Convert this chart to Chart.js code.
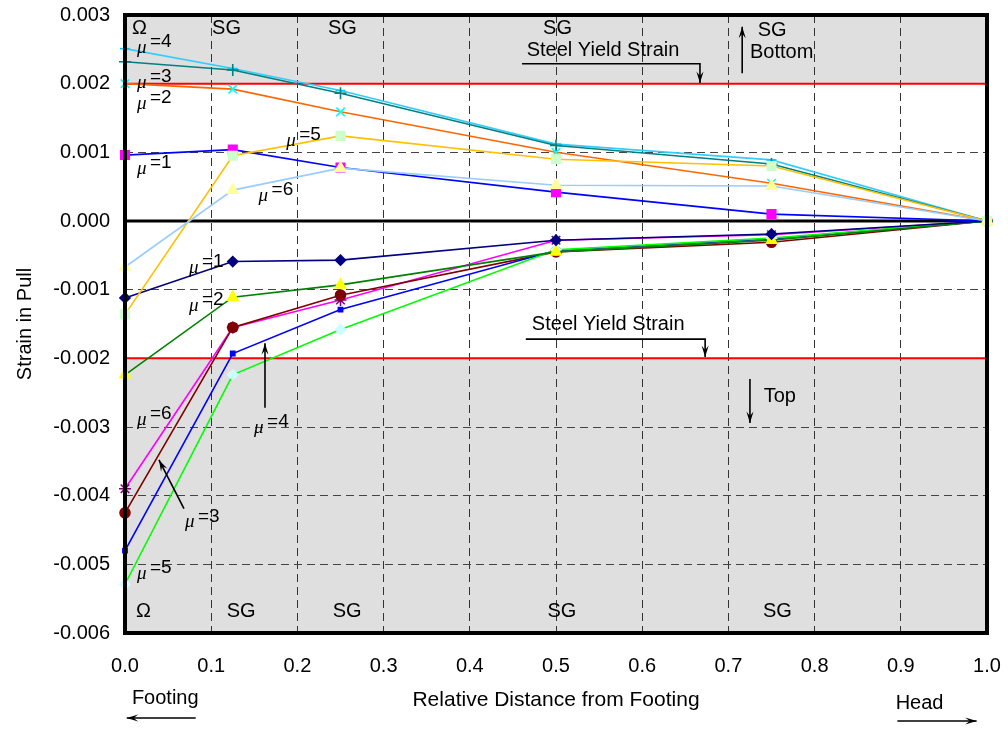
<!DOCTYPE html>
<html>
<head>
<meta charset="utf-8">
<script src="https://cdn.jsdelivr.net/npm/chart.js@4.4.1/dist/chart.umd.min.js"></script>
<style>
html, body { margin: 0; padding: 0; background: #fff; }
</style>
</head>
<body>
<canvas id="graph" width="1008" height="729"></canvas>
<script>
// relative distance of the strain gauges
const positions = [0, 0.125, 0.25, 0.5, 0.75, 1.0];

// bottom gauges (upper group)
const botMu1 = [0.00096, 0.00104, 0.00078, 0.00042, 0.00010, 0];
const botMu2 = [0.00200, 0.00192, 0.00159, 0.00100, 0.00055, 0];
const botMu3 = [0.00232, 0.00220, 0.00186, 0.00110, 0.00083, 0];
const botMu4 = [0.00251, 0.00222, 0.00190, 0.00112, 0.00089, 0];
const botMu5 = [-0.00136, 0.00095, 0.00124, 0.00090, 0.00080, 0];
const botMu6 = [-0.00067, 0.00045, 0.00077, 0.00052, 0.00051, 0];

// top gauges (lower group)
const topMu1 = [-0.00112, -0.00059, -0.00057, -0.00028, -0.00019, 0];
const topMu2 = [-0.00224, -0.00111, -0.00093, -0.00045, -0.00028, 0];
const topMu3 = [-0.00425, -0.00155, -0.00108, -0.00045, -0.00031, 0];
const topMu4 = [-0.00480, -0.00193, -0.00129, -0.00043, -0.00026, 0];
const topMu5 = [-0.00529, -0.00224, -0.00158, -0.00042, -0.00025, 0];
const topMu6 = [-0.00390, -0.00155, -0.00115, -0.00028, -0.00020, 0];

const yieldStrain = 0.002;
const xTicks = ['0.0', '0.1', '0.2', '0.3', '0.4', '0.5', '0.6', '0.7', '0.8', '0.9', '1.0'];

const FONT = '"Liberation Sans", Arial, sans-serif';

function pts(arr) {
    return arr.map((v, i) => ({ x: positions[i], y: v }));
}

function series(label, data, line, style, fill, r) {
    return {
        label: label,
        data: pts(data),
        borderColor: line,
        borderWidth: 1.6,
        pointStyle: style,
        pointBackgroundColor: fill,
        pointBorderColor: fill,
        pointBorderWidth: 1.6,
        pointRadius: r || 5,
        clip: false,
        tension: 0
    };
}

const datasets = [
    series('bottom mu=6', botMu6, '#99ccff', 'triangle', '#ffff99', 6),
    series('bottom mu=5', botMu5, '#ffc000', 'rect', '#ccffcc', 6),
    series('bottom mu=1', botMu1, '#0000ff', 'rect', '#ff00ff', 6),
    series('bottom mu=2', botMu2, '#ff6600', 'crossRot', '#00ffff', 6),
    series('bottom mu=3', botMu3, '#008080', 'cross', '#008080', 6),
    series('bottom mu=4', botMu4, '#33ccff', 'line', '#00ccff', 5),
    series('top mu=1', topMu1, '#000080', 'rectRot', '#000080', 5),
    series('top mu=2', topMu2, '#008000', 'triangle', '#ffff00', 6),
    series('top mu=5', topMu5, '#00ff00', 'rectRot', '#ccffff', 5),
    series('top mu=4', topMu4, '#0000ff', 'rect', '#0000ff', 3),
    series('top mu=3', topMu3, '#800000', 'circle', '#800000', 5),
    series('top mu=6', topMu6, '#ff00ff', 'star', '#800080', 6)
];

// text annotations, left edge / vertical centre in data units
const notes = [
    { t: 'Ω', x: 0.008, y: 0.00281 },
    { t: 'SG', x: 0.101, y: 0.00281 },
    { t: 'SG', x: 0.2355, y: 0.00281 },
    { t: 'SG', x: 0.485, y: 0.00281 },
    { t: 'SG', x: 0.734, y: 0.00278 },
    { t: 'Bottom', x: 0.725, y: 0.00245 },
    { t: 'Steel Yield Strain', x: 0.466, y: 0.00249 },
    { t: 'Steel Yield Strain', x: 0.472, y: -0.00151 },
    { t: 'Top', x: 0.741, y: -0.00255 },
    { t: 'Ω', x: 0.0128, y: -0.00569 },
    { t: 'SG', x: 0.118, y: -0.00569 },
    { t: 'SG', x: 0.241, y: -0.00569 },
    { t: 'SG', x: 0.490, y: -0.00569 },
    { t: 'SG', x: 0.740, y: -0.00569 }
];

const muLabels = [
    { n: 4, x: 0.0139, y: 0.00261 },
    { n: 3, x: 0.0139, y: 0.00210 },
    { n: 2, x: 0.0139, y: 0.00179 },
    { n: 5, x: 0.187, y: 0.00125 },
    { n: 1, x: 0.0139, y: 0.000845 },
    { n: 6, x: 0.155, y: 0.00045 },
    { n: 1, x: 0.0742, y: -0.00060 },
    { n: 2, x: 0.0742, y: -0.00115 },
    { n: 4, x: 0.1497, y: -0.00293 },
    { n: 6, x: 0.0139, y: -0.00281 },
    { n: 3, x: 0.0696, y: -0.00430 },
    { n: 5, x: 0.0139, y: -0.00505 }
];

// arrows: list of points, arrowhead at the last one
const arrows = [
    [[0.4606, 0.00229], [0.667, 0.00229], [0.667, 0.00201]],
    [[0.465, -0.00172], [0.673, -0.00172], [0.673, -0.00198]],
    [[0.716, 0.00215], [0.716, 0.00283]],
    [[0.725, -0.00230], [0.725, -0.00294]],
    [[0.1624, -0.00272], [0.1624, -0.00178]],
    [[0.0684, -0.00419], [0.0394, -0.00348]]
];

function drawArrow(ctx, p) {
    ctx.beginPath();
    ctx.moveTo(p[0][0], p[0][1]);
    for (let i = 1; i < p.length; i++) ctx.lineTo(p[i][0], p[i][1]);
    ctx.stroke();
    const a = p[p.length - 1], b = p[p.length - 2];
    const ang = Math.atan2(a[1] - b[1], a[0] - b[0]);
    ctx.beginPath();
    ctx.moveTo(a[0], a[1]);
    ctx.lineTo(a[0] - 12 * Math.cos(ang - 0.3), a[1] - 12 * Math.sin(ang - 0.3));
    ctx.lineTo(a[0] - 7 * Math.cos(ang), a[1] - 7 * Math.sin(ang));
    ctx.lineTo(a[0] - 12 * Math.cos(ang + 0.3), a[1] - 12 * Math.sin(ang + 0.3));
    ctx.closePath();
    ctx.fill();
}

function noPad(s) {
    s.paddingTop = 0;
    s.paddingBottom = 0;
    s.paddingLeft = 0;
    s.paddingRight = 0;
}

const decor = {
    id: 'decor',
    beforeDraw(chart) {
        const { ctx, chartArea: a, scales: { y } } = chart;
        ctx.save();
        ctx.fillStyle = '#dfdfdf';
        const yt = y.getPixelForValue(yieldStrain), yb = y.getPixelForValue(-yieldStrain);
        ctx.fillRect(a.left, a.top, a.right - a.left, yt - a.top);
        ctx.fillRect(a.left, yb, a.right - a.left, a.bottom - yb);
        ctx.restore();
    },
    beforeDatasetsDraw(chart) {
        const { ctx, chartArea: a, scales: { y } } = chart;
        ctx.save();
        ctx.strokeStyle = '#ff0000';
        ctx.lineWidth = 2;
        [yieldStrain, -yieldStrain].forEach(v => {
            const py = y.getPixelForValue(v);
            ctx.beginPath(); ctx.moveTo(a.left, py); ctx.lineTo(a.right, py); ctx.stroke();
        });
        ctx.strokeStyle = '#000';
        ctx.lineWidth = 3;
        const z = y.getPixelForValue(0);
        ctx.beginPath(); ctx.moveTo(a.left, z); ctx.lineTo(a.right, z); ctx.stroke();
        ctx.restore();
    },
    afterDatasetsDraw(chart) {
        const { ctx, chartArea: a, scales: { x, y } } = chart;
        ctx.save();
        ctx.strokeStyle = '#000';
        ctx.lineWidth = 4;
        ctx.strokeRect(a.left, a.top, a.right - a.left, a.bottom - a.top);

        ctx.fillStyle = '#000';
        ctx.textBaseline = 'middle';
        ctx.textAlign = 'left';
        ctx.font = '20px ' + FONT;
        notes.forEach(n => {
            ctx.fillText(n.t, x.getPixelForValue(n.x), y.getPixelForValue(n.y));
        });
        muLabels.forEach(m => {
            const px = x.getPixelForValue(m.x), py = y.getPixelForValue(m.y);
            ctx.font = 'italic 19px "Liberation Serif", serif';
            ctx.fillText('μ', px, py + 6);
            ctx.font = '19px ' + FONT;
            ctx.fillText('=' + m.n, px + 13, py);
        });

        ctx.lineWidth = 1.6;
        arrows.forEach(ar => {
            drawArrow(ctx, ar.map(p => [x.getPixelForValue(p[0]), y.getPixelForValue(p[1])]));
        });

        // footing / head captions under the axis
        const base = a.bottom;
        ctx.font = '20px ' + FONT;
        ctx.fillText('Footing', x.getPixelForValue(0.008), base + 65);
        ctx.fillText('Head', x.getPixelForValue(0.894), base + 70);
        drawArrow(ctx, [[x.getPixelForValue(0.082), base + 85], [x.getPixelForValue(0.002), base + 85]]);
        drawArrow(ctx, [[x.getPixelForValue(0.896), base + 88], [x.getPixelForValue(0.988), base + 88]]);
        ctx.restore();
    }
};

new Chart(document.getElementById('graph'), {
    type: 'line',
    data: { datasets: datasets },
    options: {
        responsive: false,
        animation: false,
        layout: { padding: { top: 15, right: 21, left: 0, bottom: 0 } },
        plugins: { legend: { display: false }, tooltip: { enabled: false } },
        scales: {
            x: {
                type: 'linear',
                min: 0,
                max: 1,
                afterFit(s) { s.height = 96; noPad(s); },
                afterBuildTicks(s) { s.ticks = xTicks.map(t => ({ value: parseFloat(t) })); },
                ticks: {
                    padding: 21,
                    color: '#000',
                    font: { size: 20, family: FONT },
                    callback: (v) => v.toFixed(1)
                },
                grid: { color: '#333', lineWidth: 1, drawTicks: false, borderDash: [8, 5] },
                border: { display: false, dash: [8, 5] },
                title: {
                    display: true,
                    text: 'Relative Distance from Footing',
                    color: '#000',
                    font: { size: 21, family: FONT },
                    padding: { bottom: 16 }
                }
            },
            y: {
                type: 'linear',
                min: -0.006,
                max: 0.003,
                afterFit(s) { s.width = 125; noPad(s); },
                ticks: {
                    stepSize: 0.001,
                    padding: 15,
                    color: '#000',
                    font: { size: 20, family: FONT },
                    callback: (v) => v.toFixed(3)
                },
                grid: { color: '#444', lineWidth: 1, drawTicks: false, borderDash: [8, 5] },
                border: { display: false, dash: [8, 5] },
                title: {
                    display: true,
                    text: 'Strain in Pull',
                    color: '#000',
                    font: { size: 20, family: FONT },
                    padding: { top: 13 }
                }
            }
        }
    },
    plugins: [decor]
});
</script>
</body>
</html>
